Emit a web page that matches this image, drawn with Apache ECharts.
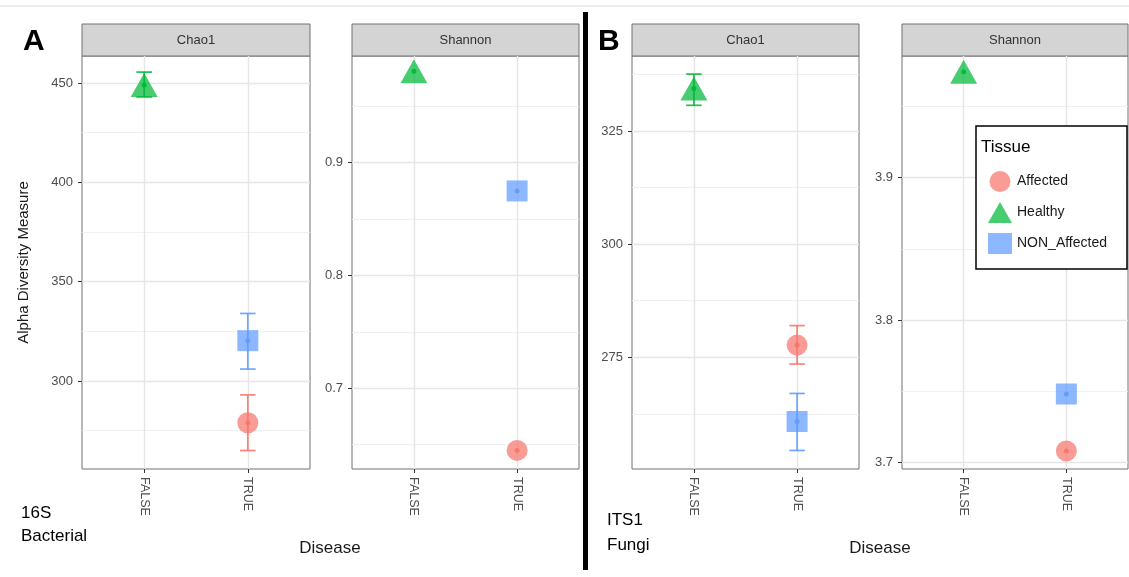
<!DOCTYPE html>
<html>
<head>
<meta charset="utf-8">
<script src="https://cdn.jsdelivr.net/npm/echarts@6/dist/echarts.min.js"></script>
<style>
  html, body { margin: 0; padding: 0; background: #fff; }
  #chart { width: 1129px; height: 577px; }
</style>
</head>
<body>
<div id="chart"></div>
<script>
  // facets: A-Chao1, A-Shannon, B-Chao1, B-Shannon
  const panelNames = ['Chao1', 'Shannon', 'Chao1', 'Shannon'];
  const diseaseLabels = ['FALSE', 'TRUE'];
  const tissues = ['Affected', 'Healthy', 'NON_Affected'];

  // disease position of each tissue (1 = FALSE, 2 = TRUE)
  const tissueDisease = [2, 1, 2];

  // mean and error bar ends, one value per facet
  const affectedMean = [279, 0.645, 277.7, 3.708];
  const affectedLow = [265, 0.645, 273.5, 3.708];
  const affectedHigh = [293, 0.645, 282, 3.708];

  const healthyMean = [449, 0.981, 334.4, 3.9745];
  const healthyLow = [443, 0.981, 330.7, 3.9745];
  const healthyHigh = [455.5, 0.981, 337.6, 3.9745];

  const nonMean = [320.3, 0.875, 260.8, 3.748];
  const nonLow = [306, 0.875, 254.4, 3.748];
  const nonHigh = [334, 0.875, 267, 3.748];

  // y scale per facet
  const yMin = [255.7, 0.6285, 250.3, 3.6953];
  const yMax = [463.6, 0.9946, 341.6, 3.9855];
  const yMajor = [[300, 350, 400, 450], [0.7, 0.8, 0.9], [275, 300, 325], [3.7, 3.8, 3.9]];
  const yMinor = [[275, 325, 375, 425], [0.65, 0.75, 0.85, 0.95], [262.5, 287.5, 312.5, 337.5], [3.75, 3.85, 3.95]];

  const colors = ['#F8766D', '#00BA38', '#619CFF'];
  const symbols = ['circle', 'triangle', 'rect'];
  const symbolSizes = [21, [27, 24], 21];

  const means = [affectedMean, healthyMean, nonMean];
  const lows = [affectedLow, healthyLow, nonLow];
  const highs = [affectedHigh, healthyHigh, nonHigh];

  const font = '"Liberation Sans", Arial, sans-serif';
  const gridBoxes = [
    { left: 82, width: 228 },
    { left: 352, width: 227 },
    { left: 632, width: 227 },
    { left: 902, width: 226 }
  ];
  const gridTop = 56, gridHeight = 413;

  var myChart = echarts.init(document.getElementById('chart'));

  const grids = gridBoxes.map(b => ({
    left: b.left, width: b.width, top: gridTop, height: gridHeight,
    show: true, borderColor: '#707070', borderWidth: 1, backgroundColor: '#fff'
  }));

  const xAxes = gridBoxes.map((b, i) => ({
    type: 'value', gridIndex: i, min: 0.4, max: 2.6,
    axisLine: { show: false },
    axisTick: { show: true, length: 4, customValues: [1, 2], lineStyle: { color: '#333' } },
    axisLabel: {
      customValues: [1, 2], rotate: -90, margin: 8,
      color: '#4d4d4d', fontSize: 12.5, fontFamily: font,
      formatter: v => diseaseLabels[Math.round(v) - 1]
    },
    splitLine: { show: true, lineStyle: { color: '#e6e6e6', width: 1.4 } }
  }));

  const yAxes = [];
  gridBoxes.forEach((b, i) => {
    yAxes.push({
      type: 'value', gridIndex: i, min: yMin[i], max: yMax[i],
      axisLine: { show: false },
      axisTick: { show: true, length: 4, customValues: yMajor[i], lineStyle: { color: '#333' } },
      axisLabel: { customValues: yMajor[i], margin: 9, color: '#4d4d4d', fontSize: 13, fontFamily: font },
      splitLine: { show: true, lineStyle: { color: '#e6e6e6', width: 1.4 } }
    });
  });
  gridBoxes.forEach((b, i) => {
    yAxes.push({
      type: 'value', gridIndex: i, min: yMin[i], max: yMax[i],
      axisLine: { show: false },
      axisTick: { show: false, customValues: yMinor[i] },
      axisLabel: { show: false },
      splitLine: { show: true, lineStyle: { color: '#efefef', width: 0.9 } }
    });
  });

  function renderErrorBar(params, api) {
    const x = api.value(0), lo = api.value(1), hi = api.value(2);
    const top = api.coord([x, hi]), bot = api.coord([x, lo]);
    const half = api.coord([x + 0.075, hi])[0] - top[0];
    const st = { stroke: api.visual('color'), lineWidth: 1.7, opacity: 0.9 };
    return {
      type: 'group',
      children: [
        { type: 'line', shape: { x1: top[0], y1: top[1], x2: bot[0], y2: bot[1] }, style: st },
        { type: 'line', shape: { x1: top[0] - half, y1: top[1], x2: top[0] + half, y2: top[1] }, style: st },
        { type: 'line', shape: { x1: bot[0] - half, y1: bot[1], x2: bot[0] + half, y2: bot[1] }, style: st }
      ]
    };
  }

  const series = [];
  panelNames.forEach((p, i) => {
    tissues.forEach((t, k) => {
      const x = tissueDisease[k];
      series.push({
        name: t, type: 'scatter', xAxisIndex: i, yAxisIndex: i,
        symbol: symbols[k], symbolSize: symbolSizes[k],
        itemStyle: { color: colors[k], opacity: 0.72 },
        data: [[x, means[k][i]]], z: 3, silent: true
      });
      if (highs[k][i] > lows[k][i]) {
        series.push({
          name: t + ' se', type: 'custom', xAxisIndex: i, yAxisIndex: i,
          itemStyle: { color: colors[k] },
          renderItem: renderErrorBar,
          encode: { x: 0, y: [1, 2] },
          data: [[x, lows[k][i], highs[k][i]]], z: 4, silent: true
        });
      }
      series.push({
        name: t + ' dot', type: 'scatter', xAxisIndex: i, yAxisIndex: i,
        symbol: 'circle', symbolSize: 5,
        itemStyle: { color: colors[k], opacity: 0.95 },
        data: [[x, means[k][i]]], z: 5, silent: true
      });
    });
  });

  const graphics = [
    { type: 'rect', shape: { x: 0, y: 5.5, width: 1129, height: 1 }, style: { fill: '#dddddd' } },
    { type: 'rect', shape: { x: 583, y: 12, width: 5, height: 558 }, style: { fill: '#000' }, z: 20 },
    { type: 'text', left: 23, top: 27, style: { text: 'A', font: 'bold 30px ' + font, fill: '#000' } },
    { type: 'text', left: 598, top: 27, style: { text: 'B', font: 'bold 30px ' + font, fill: '#000' } },
    { type: 'text', x: 24, y: 262.5, rotation: Math.PI / 2,
      style: { text: 'Alpha Diversity Measure', font: '15px ' + font, fill: '#1a1a1a', align: 'center', verticalAlign: 'middle' } },
    { type: 'text', x: 330, y: 548, style: { text: 'Disease', font: '17px ' + font, fill: '#1a1a1a', align: 'center', verticalAlign: 'middle' } },
    { type: 'text', x: 880, y: 548, style: { text: 'Disease', font: '17px ' + font, fill: '#1a1a1a', align: 'center', verticalAlign: 'middle' } },
    { type: 'text', x: 21, y: 513, style: { text: '16S', font: '17px ' + font, fill: '#000', verticalAlign: 'middle' } },
    { type: 'text', x: 21, y: 536, style: { text: 'Bacterial', font: '17px ' + font, fill: '#000', verticalAlign: 'middle' } },
    { type: 'text', x: 607, y: 520, style: { text: 'ITS1', font: '17px ' + font, fill: '#000', verticalAlign: 'middle' } },
    { type: 'text', x: 607, y: 545, style: { text: 'Fungi', font: '17px ' + font, fill: '#000', verticalAlign: 'middle' } },
    { type: 'rect', shape: { x: 976, y: 126, width: 151, height: 143 }, style: { fill: '#fff', stroke: '#000', lineWidth: 1.5 }, z: 50 },
    { type: 'text', x: 981, y: 147, z: 51, style: { text: 'Tissue', font: '17px ' + font, fill: '#000', verticalAlign: 'middle' } }
  ];
  gridBoxes.forEach((b, i) => {
    graphics.push({ type: 'rect', shape: { x: b.left, y: 24, width: b.width, height: 32 },
      style: { fill: '#d4d4d4', stroke: '#707070', lineWidth: 1 } });
    graphics.push({ type: 'text', x: b.left + b.width / 2, y: 40,
      style: { text: panelNames[i], font: '13px ' + font, fill: '#333', align: 'center', verticalAlign: 'middle' } });
  });

  myChart.setOption({
    animation: false,
    grid: grids,
    xAxis: xAxes,
    yAxis: yAxes,
    legend: {
      data: tissues, orient: 'vertical', left: 983, top: 166,
      itemWidth: 24, itemHeight: 21, itemGap: 10, z: 60,
      textStyle: { fontSize: 14, fontFamily: font, color: '#1a1a1a' },
      selectedMode: false
    },
    graphic: graphics,
    series: series
  });
</script>
</body>
</html>
